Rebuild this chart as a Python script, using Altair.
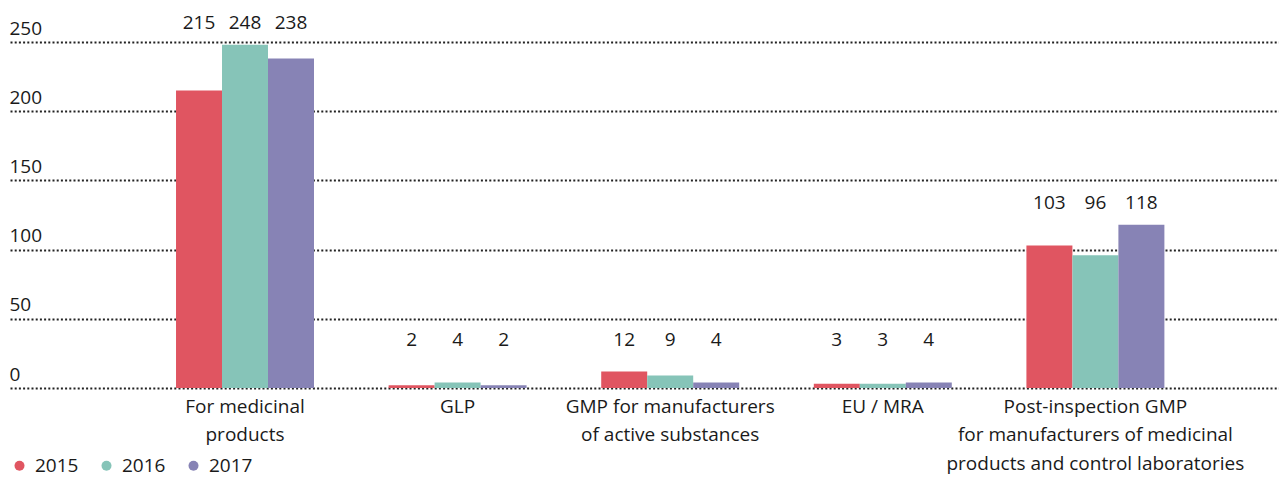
import altair as alt
import pandas as pd

categories = [
    "For medicinal|products",
    "GLP",
    "GMP for manufacturers|of active substances",
    "EU / MRA",
    "Post-inspection GMP|for manufacturers of medicinal|products and control laboratories",
]
years = ["2015", "2016", "2017"]
values_2015 = [215, 2, 12, 3, 103]
values_2016 = [248, 4, 9, 3, 96]
values_2017 = [238, 2, 4, 4, 118]
colors = ["#E05561", "#86C4B8", "#8783B5"]

rows = []
for year, vals in zip(years, [values_2015, values_2016, values_2017]):
    for cat, v in zip(categories, vals):
        rows.append({"category": cat, "year": year, "value": v})
df = pd.DataFrame(rows)

FONT = "Open Sans"
FS = 19
TXT = "#1a1a1a"

x = alt.X(
    "category:N",
    sort=categories,
    scale=alt.Scale(paddingInner=0.351, paddingOuter=0.66, align=0.5916),
    axis=alt.Axis(
        title=None,
        domain=False,
        ticks=False,
        labelAngle=0,
        labelExpr="split(datum.label, '|')",
        labelFont=FONT,
        labelFontSize=FS,
        labelColor=TXT,
        labelLineHeight=28.5,
        labelPadding=9,
        labelBaseline="top",
        labelLimit=0,
    ),
)

xo = alt.XOffset("year:N", sort=years, scale=alt.Scale(paddingInner=0, paddingOuter=0))

bars = alt.Chart(df).mark_bar().encode(
    x=x,
    xOffset=xo,
    y=alt.Y(
        "value:Q",
        scale=alt.Scale(domain=[0, 250], nice=False),
        axis=alt.Axis(
            title=None,
            values=[0, 50, 100, 150, 200, 250],
            domain=False,
            ticks=False,
            grid=True,
            gridColor="#222222",
            gridDash=[2, 2.2],
            gridWidth=1.8,
            labelAlign="left",
            labelBaseline="bottom",
            labelPadding=1,
            labelOffset=-4,
            labelFont=FONT,
            labelFontSize=FS,
            labelColor=TXT,
        ),
    ),
    color=alt.Color(
        "year:N",
        sort=years,
        scale=alt.Scale(domain=years, range=colors),
        legend=alt.Legend(
            title=None,
            orient="none",
            legendX=0,
            legendY=414,
            direction="horizontal",
            symbolType="circle",
            symbolSize=100,
            symbolStrokeWidth=0,
            labelFont=FONT,
            labelFontSize=FS,
            labelColor=TXT,
            labelOffset=6,
            columnPadding=18,
        ),
    ),
)

labels = alt.Chart(df).transform_joinaggregate(
    gmax="max(value)", groupby=["category"]
).transform_calculate(
    ly="max(datum.gmax, 19.5) + 15.5"
).mark_text(
    font=FONT, fontSize=FS, color=TXT, baseline="middle", align="center"
).encode(
    x=x,
    xOffset=xo,
    y=alt.Y("ly:Q"),
    text=alt.Text("value:Q"),
)

chart = alt.layer(bars, labels).properties(
    width=1269,
    height=346,
    padding={"left": 2, "top": 34, "right": 0, "bottom": 89},
    autosize=alt.AutoSizeParams(type="none"),
).configure_view(stroke=None)

chart.save("out.html", embed_options={"renderer": "svg", "actions": False})
